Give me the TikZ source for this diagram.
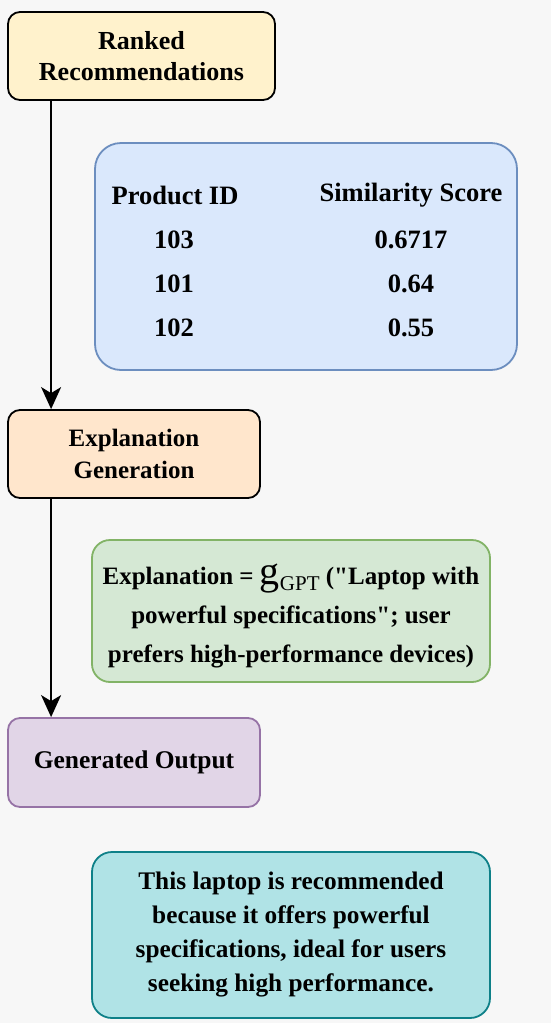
\documentclass[tikz,border=0pt]{standalone}
\usepackage{fontspec}
\setmainfont{Liberation Serif}[Ligatures=TeXOff]
\usetikzlibrary{arrows.meta}

\definecolor{rankedFill}{HTML}{FFF2CC}
\definecolor{tableFill}{HTML}{DAE8FC}
\definecolor{tableDraw}{HTML}{6C8EBF}
\definecolor{explainFill}{HTML}{FFE6CC}
\definecolor{formulaFill}{HTML}{D5E8D4}
\definecolor{formulaDraw}{HTML}{82B366}
\definecolor{outputFill}{HTML}{E1D5E7}
\definecolor{outputDraw}{HTML}{9673A6}
\definecolor{messageFill}{HTML}{B0E3E6}
\definecolor{messageDraw}{HTML}{0E8088}
\definecolor{pageFill}{HTML}{F7F7F7}

\begin{document}
\begin{tikzpicture}[x=1pt, y=-1pt,
    boxStyle/.style={draw, line width=1.8pt, rounded corners=12pt, align=center, inner sep=0pt,
        font=\fontsize{26}{31}\selectfont\bfseries},
    cellStyle/.style={inner sep=0pt, font=\fontsize{26.5}{31}\selectfont\bfseries},
    arrowStyle/.style={line width=2pt, -{Stealth[width=20pt, length=22pt, inset=6pt]}}]

    % Page
    \useasboundingbox (0,0) rectangle (551,1023);
    \fill[pageFill] (0,0) rectangle (551,1023);

    % Steps
    \node[boxStyle, fill=rankedFill, minimum width=267pt, minimum height=88pt] (ranked) at (141.5, 56) {Ranked\\Recommendations};
    \node[boxStyle, fill=explainFill, minimum width=252pt, minimum height=88pt,
        font=\fontsize{25}{32}\selectfont\bfseries] (explain) at (134, 454) {Explanation\\Generation};
    \node[boxStyle, fill=outputFill, draw=outputDraw, minimum width=252pt, minimum height=89pt,
        font=\fontsize{25.5}{31}\selectfont\bfseries] (output) at (134, 762.5) {Generated Output};

    % Notes
    \node[boxStyle, fill=tableFill, draw=tableDraw, rounded corners=26pt, minimum width=422pt, minimum height=227pt] (table) at (306, 256.5) {};
    \node[boxStyle, fill=formulaFill, draw=formulaDraw, rounded corners=18pt, minimum width=398pt, minimum height=142pt,
        font=\fontsize{25}{39}\selectfont\bfseries] (formula) at (291, 611)
        {\rule{0pt}{30pt}Explanation = {\fontsize{40}{40}\selectfont\mdseries g}\raisebox{-6pt}{\fontsize{21}{21}\selectfont\mdseries GPT} ("Laptop with\\powerful specifications"; user\\prefers high-performance devices)};
    \node[boxStyle, fill=messageFill, draw=messageDraw, rounded corners=20pt, minimum width=398pt, minimum height=166pt,
        font=\fontsize{25.3}{34}\selectfont\bfseries] (message) at (291, 935)
        {This laptop is recommended\\because it offers powerful\\specifications, ideal for users\\seeking high performance.};

    % Table
    \node[cellStyle] (idHead)    at (175, 195) {Product ID};
    \node[cellStyle] (scoreHead) at (411, 195) {Similarity Score};
    \node[cellStyle] (id1)    at (174, 240) {103};
    \node[cellStyle] (score1) at (411, 240) {0.6717};
    \node[cellStyle] (id2)    at (174, 284) {101};
    \node[cellStyle] (score2) at (411, 284) {0.64};
    \node[cellStyle] (id3)    at (174, 328) {102};
    \node[cellStyle] (score3) at (411, 328) {0.55};

    % Edges
    \draw[arrowStyle] ([xshift=44pt]ranked.south west) -- ([xshift=44pt]explain.north west);
    \draw[arrowStyle] ([xshift=44pt]explain.south west) -- ([xshift=44pt]output.north west);
\end{tikzpicture}
\end{document}
